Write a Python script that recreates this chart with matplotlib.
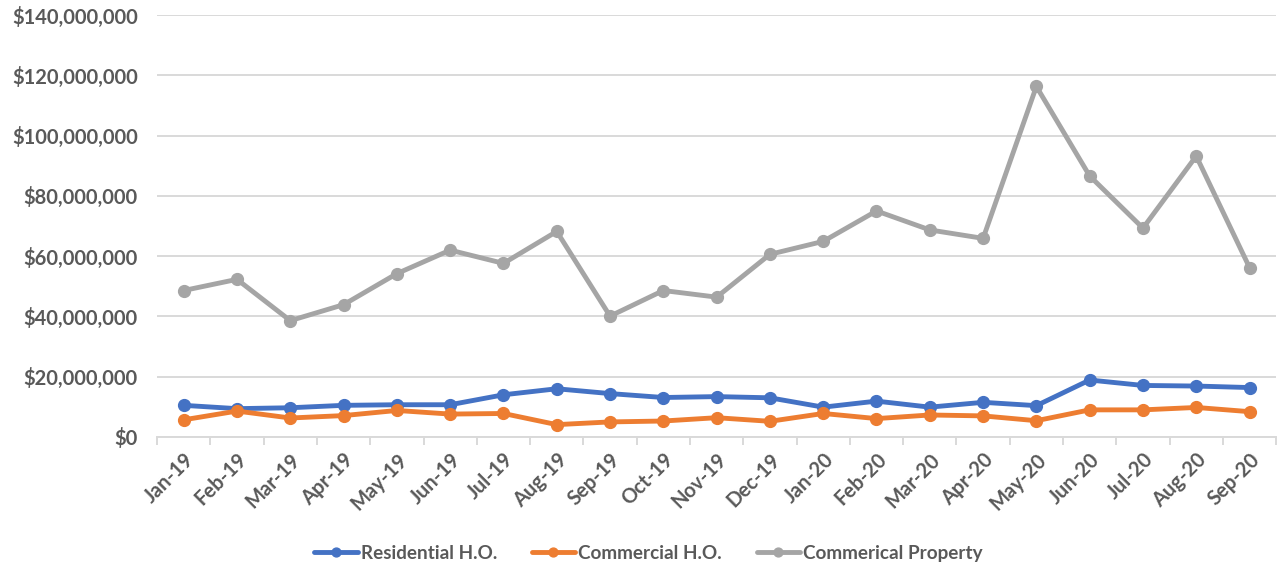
import matplotlib.pyplot as plt
from matplotlib.ticker import FuncFormatter

# monthly totals, Jan-19 .. Sep-20
months = ['Jan-19', 'Feb-19', 'Mar-19', 'Apr-19', 'May-19', 'Jun-19', 'Jul-19',
          'Aug-19', 'Sep-19', 'Oct-19', 'Nov-19', 'Dec-19', 'Jan-20', 'Feb-20',
          'Mar-20', 'Apr-20', 'May-20', 'Jun-20', 'Jul-20', 'Aug-20', 'Sep-20']

residential_ho = [10.5e6, 9.4e6, 9.7e6, 10.5e6, 10.7e6, 10.7e6, 14.0e6,
                  16.0e6, 14.4e6, 13.1e6, 13.4e6, 13.0e6, 9.9e6, 11.9e6,
                  9.9e6, 11.5e6, 10.4e6, 18.9e6, 17.1e6, 16.9e6, 16.4e6]

commercial_ho = [5.7e6, 8.6e6, 6.3e6, 7.1e6, 8.8e6, 7.6e6, 7.8e6,
                 4.1e6, 5.0e6, 5.3e6, 6.4e6, 5.2e6, 7.8e6, 6.1e6,
                 7.3e6, 7.0e6, 5.4e6, 9.0e6, 9.0e6, 9.8e6, 8.4e6]

commercial_property = [48.6e6, 52.3e6, 38.6e6, 43.9e6, 54.2e6, 62.0e6, 57.6e6,
                       68.2e6, 40.1e6, 48.6e6, 46.4e6, 60.6e6, 64.9e6, 75.0e6,
                       68.7e6, 65.9e6, 116.3e6, 86.6e6, 69.3e6, 93.2e6, 56.2e6]

series = [
    ('Residential H.O.', residential_ho, '#4472C4'),
    ('Commercial H.O.', commercial_ho, '#ED7D31'),
    ('Commerical Property', commercial_property, '#A5A5A5'),
]

plt.rcParams['font.family'] = ['Lato', 'DejaVu Sans']
text_color = '#595959'
grid_color = '#D9D9D9'

fig = plt.figure(figsize=(12.79, 5.67), dpi=100)
ax = fig.add_axes([0.1228, 0.2293, 0.875, 0.7442])

x = range(len(months))
for name, vals, color in series:
    ax.plot(x, vals, color=color, linewidth=3.5, marker='o', markersize=8.5,
            label=name, solid_capstyle='round', solid_joinstyle='round')

ax.set_ylim(0, 140e6)
ax.set_yticks(range(0, 140000001, 20000000))
ax.yaxis.set_major_formatter(FuncFormatter(lambda v, p: '${:,.0f}'.format(v)))
ax.set_xlim(-0.5, len(months) - 0.5)
ax.set_xticks(list(x))
ax.set_xticklabels(months)
ax.set_xticks([i - 0.5 for i in range(len(months) + 1)], minor=True)

ax.grid(axis='y', color=grid_color, linewidth=1.4)
ax.set_axisbelow(True)
for side in ['top', 'right', 'left']:
    ax.spines[side].set_visible(False)
ax.spines['bottom'].set_color(grid_color)
ax.spines['bottom'].set_linewidth(1.4)

ax.tick_params(axis='y', length=0, pad=14, labelsize=14.5, labelcolor=text_color)
ax.tick_params(axis='x', which='major', length=0, pad=9, labelsize=14.5,
               labelcolor=text_color)
ax.tick_params(axis='x', which='minor', length=6, width=1.4, color=grid_color)
for lbl in ax.get_yticklabels():
    lbl.set_fontweight('bold')
for lbl in ax.get_xticklabels():
    lbl.set_fontweight('bold')
    lbl.set_rotation(45)
    lbl.set_ha('right')
    lbl.set_rotation_mode('anchor')

leg = ax.legend(loc='center', bbox_to_anchor=(0.439, -0.275), ncol=3, frameon=False,
                handlelength=2.3, columnspacing=1.85, handletextpad=0.15,
                markerscale=0.75, prop={'size': 13.6, 'weight': 'bold'})
for t in leg.get_texts():
    t.set_color(text_color)

fig.savefig('out.png', dpi=100)
